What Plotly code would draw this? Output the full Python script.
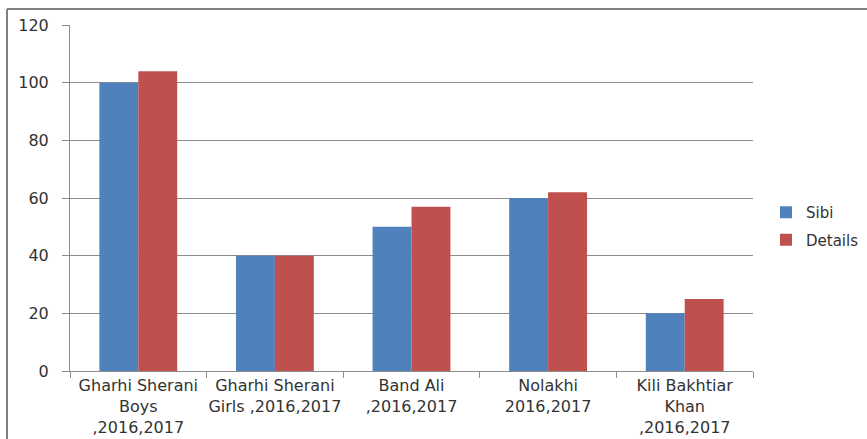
import plotly.graph_objects as go

categories = [
    "Gharhi Sherani<br>Boys<br>,2016,2017",
    "Gharhi Sherani<br>Girls ,2016,2017",
    "Band Ali<br>,2016,2017",
    "Nolakhi<br>2016,2017",
    "Kili Bakhtiar<br>Khan<br>,2016,2017",
]
sibi = [100, 40, 50, 60, 20]
details = [104, 40, 57, 62, 25]
y_ticks = [0, 20, 40, 60, 80, 100, 120]

W, H = 867, 439
L, R, T, B = 70, 114, 25, 68
pw, ph = W - L - R, H - T - B

fig = go.Figure()
fig.add_trace(go.Bar(x=categories, y=sibi, name="Sibi", marker_color="#4F81BD",
                     marker_line_width=0, legendgroup="a"))
fig.add_trace(go.Bar(x=categories, y=details, name="Details", marker_color="#C0504D",
                     marker_line_width=0, legendgroup="b"))

font = dict(family="DejaVu Sans, sans-serif", size=16, color="#333333")

fig.update_layout(
    width=W, height=H,
    margin=dict(l=L, r=R, t=T, b=B, pad=0, autoexpand=False),
    paper_bgcolor="white", plot_bgcolor="white",
    barmode="group", bargap=0.43, bargroupgap=0,
    font=font,
    showlegend=True,
    legend=dict(x=(766 - L) / pw, y=(371 - 226) / ph, xanchor="left", yanchor="middle",
                font=dict(size=15, color="#333333"), tracegroupgap=5,
                itemwidth=30, bgcolor="rgba(0,0,0,0)"),
    xaxis=dict(type="category", showline=True, linecolor="#8c8c8c", linewidth=1,
               ticks="outside", ticklen=6, tickcolor="#8c8c8c", tickson="boundaries",
               showgrid=False, tickfont=font, automargin=False, tickangle=0),
    yaxis=dict(range=[0, 120], tickvals=y_ticks, showline=True, linecolor="#8c8c8c",
               linewidth=1, ticks="outside", ticklen=7, tickcolor="#8c8c8c",
               showgrid=True, gridcolor="#8c8c8c", gridwidth=1, zeroline=False,
               ticklabelstandoff=10, tickfont=font, automargin=False),
    shapes=[
        dict(type="line", xref="paper", yref="paper",
             x0=(7 - L) / pw, x1=(7 - L) / pw, y0=(H - 9 - B) / ph, y1=-B / ph - 0.05,
             line=dict(color="#7f7f7f", width=2)),
        dict(type="line", xref="paper", yref="paper",
             x0=(7 - L) / pw, x1=(W + 5 - L) / pw, y0=(H - 9 - B) / ph, y1=(H - 9 - B) / ph,
             line=dict(color="#7f7f7f", width=2)),
    ],
)

fig.write_html("out.html", config={"displayModeBar": False},
               post_script="document.body.style.margin='0';")
